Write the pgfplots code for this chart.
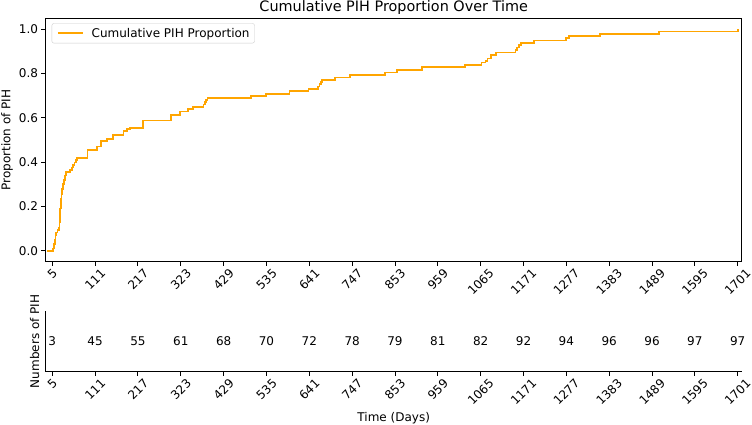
\documentclass[border=0pt]{standalone}
\usepackage{fontspec}
\setmainfont{DejaVu Sans}
\usepackage{graphicx}
\usepackage{pgfplots}
\pgfplotsset{compat=1.18}

\definecolor{pihorange}{HTML}{FFA500}
\definecolor{legendgray}{HTML}{CCCCCC}

\pgfplotsset{
  pihbase/.style={
    scale only axis, width=696pt,
    xmin=-11.3, xmax=1710.9,
    xtick={5,111,...,1701},
    xticklabel={\rotatebox{45}{\pgfmathprintnumber{\tick}}},
    xticklabel style={anchor=north, inner sep=0pt, yshift=-2pt},
    /pgf/number format/1000 sep={},
    /pgf/number format/assume math mode=true,
    tick align=outside, major tick length=4.2pt,
    tick style={black, line width=0.96pt},
    axis line style={black, line width=0.96pt},
    font=\fontsize{12}{14}\selectfont,
    ticklabel style={font=\fontsize{12}{14}\selectfont},
    label style={font=\fontsize{12}{14}\selectfont},
  },
}

\begin{document}
\begin{tikzpicture}
\path[use as bounding box] (-45.7pt,261.7pt) rectangle (706.3pt,-163.3pt);

% upper panel: cumulative proportion
\begin{axis}[
    pihbase,
    height=243.4pt,
    ymin=-0.05, ymax=1.05,
    ytick={0,0.2,0.4,0.6,0.8,1.0},
    yticklabel style={/pgf/number format/.cd, fixed, fixed zerofill, precision=1},
    xtick pos=left, ytick pos=left,
    ylabel={Proportion of PIH},
    ylabel style={at={(axis description cs:-0.0556,0.5)}, anchor=center},
    title={Cumulative PIH Proportion Over Time},
    every axis title shift=0pt,
    title style={font=\fontsize{14.4}{16}\selectfont, inner sep=0pt, at={(axis description cs:0.5,1)}, anchor=base, yshift=6.4pt},
    legend style={at={(axis description cs:0.0086,0.9795)}, anchor=north west,
        draw=legendgray, rounded corners=2pt, fill=white,
        inner xsep=5pt, inner ysep=4.5pt, column sep=8pt,
        nodes={inner sep=0pt, font=\fontsize{12}{14}\selectfont}},
    legend cell align=left,
    legend image code/.code={\draw[#1] (0pt,0pt) -- (25pt,0pt);},
]
\addplot[const plot, pihorange, line width=1.8pt] table {
x y
-8 0.0
7 0.010
9 0.030
11 0.050
13 0.070
15 0.082
18 0.095
21 0.104
23 0.13
24 0.16
25 0.19
26 0.215
27 0.235
28 0.255
30 0.28
32 0.30
34 0.32
36 0.34
38 0.356
49 0.366
54 0.376
57 0.386
60 0.398
63 0.410
66 0.419
92 0.453
115 0.471
125 0.494
140 0.506
155 0.524
181 0.542
190 0.548
197 0.554
230 0.588
299 0.614
321 0.629
341 0.640
354 0.649
379 0.660
383 0.670
386 0.680
389 0.689
496 0.700
534 0.707
592 0.722
639 0.731
662 0.742
666 0.752
669 0.762
672 0.772
705 0.782
741 0.794
829 0.805
858 0.817
920 0.830
1027 0.838
1067 0.850
1077 0.858
1082 0.868
1090 0.883
1102 0.895
1151 0.908
1155 0.918
1159 0.928
1164 0.940
1197 0.950
1277 0.960
1283 0.970
1360 0.980
1506 0.990
1701 1.000
};
\addlegendentry{Cumulative PIH Proportion}
\end{axis}

% lower panel: counts at each tick
\begin{axis}[
    pihbase,
    at={(0,-110pt)},
    height=60.7pt,
    ymin=0, ymax=1,
    ytick=\empty,
    axis x line*=bottom, axis y line*=left,
    xtick pos=left,
    clip=false,
    xlabel={Time (Days)},
    xlabel style={at={(axis description cs:0.5,-0.763)}, anchor=center},
    ylabel={Numbers of PIH},
    ylabel style={at={(axis description cs:-0.0158,0.5)}, anchor=center},
]
\addplot[draw=none, mark=none, nodes near coords, point meta=explicit symbolic,
    every node near coord/.append style={anchor=center, inner sep=0pt, font=\fontsize{12}{14}\selectfont}]
    table[meta=n] {
x y n
5 0.5 3
111 0.5 45
217 0.5 55
323 0.5 61
429 0.5 68
535 0.5 70
641 0.5 72
747 0.5 78
853 0.5 79
959 0.5 81
1065 0.5 82
1171 0.5 92
1277 0.5 94
1383 0.5 96
1489 0.5 96
1595 0.5 97
1701 0.5 97
};
\end{axis}
\end{tikzpicture}
\end{document}
